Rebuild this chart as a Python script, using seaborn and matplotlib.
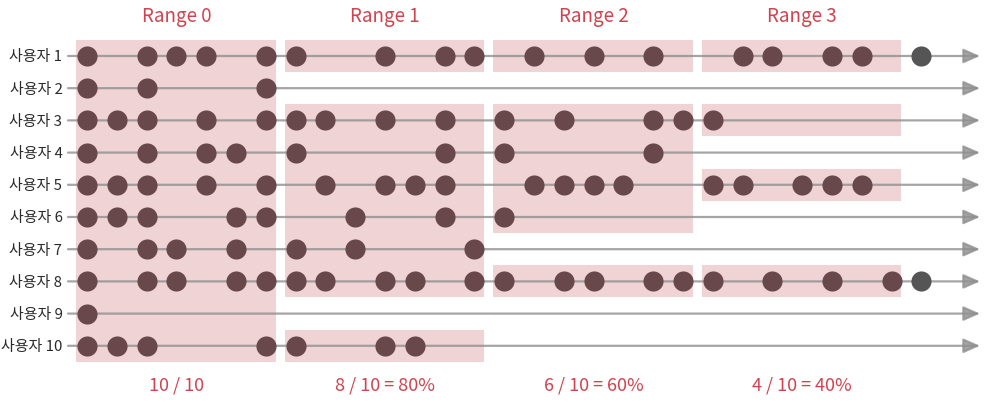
import pandas as pd
import seaborn as sns
import matplotlib.pyplot as plt
from matplotlib.patches import Rectangle

# event slots per user (slot 0..27 fall into four ranges of 7 slots)
users = ["사용자 1", "사용자 2", "사용자 3", "사용자 4", "사용자 5",
         "사용자 6", "사용자 7", "사용자 8", "사용자 9", "사용자 10"]
events = [
    [0, 2, 3, 4, 6, 7, 10, 12, 13, 15, 17, 19, 22, 23, 25, 26],
    [0, 2, 6],
    [0, 1, 2, 4, 6, 7, 8, 10, 12, 14, 16, 19, 20, 21],
    [0, 2, 4, 5, 7, 12, 14, 19],
    [0, 1, 2, 4, 6, 8, 10, 11, 12, 15, 16, 17, 18, 21, 22, 24, 25, 26],
    [0, 1, 2, 5, 6, 9, 12, 14],
    [0, 2, 3, 5, 7, 9, 13],
    [0, 2, 3, 5, 6, 7, 8, 10, 11, 13, 14, 16, 17, 19, 20, 21, 23, 25, 27],
    [0],
    [0, 1, 2, 6, 7, 10, 11],
]
# events after the last range
later = {"사용자 1": [28], "사용자 8": [28]}

range_titles = ["Range 0", "Range 1", "Range 2", "Range 3"]
range_notes = ["10 / 10", "8 / 10 = 80%", "6 / 10 = 60%", "4 / 10 = 40%"]
range_size = 7

dot_color = "#69484c"
late_color = "#555555"
box_color = "#f0d3d5"
line_color = "#8f8f8f"
red = "#d0434f"

rows = []
for r, (u, ev) in enumerate(zip(users, events), start=1):
    for e in ev:
        rows.append({"user": u, "row": r, "slot": e, "kind": "in"})
    for e in later.get(u, []):
        rows.append({"user": u, "row": r, "slot": e, "kind": "late"})
df = pd.DataFrame(rows)

sns.set_style("white")
plt.rcParams["font.family"] = ["Noto Sans CJK KR", "DejaVu Sans"]

fig = plt.figure(figsize=(9.88, 4.04), dpi=100)
ax = fig.add_axes([68 / 988, 1 - 375 / 404, 912 / 988, 345 / 404])

x0, x1 = -0.64, 29.97
ax.set_xlim(x0, x1)
ax.set_ylim(10.907, 0.193)

# shaded boxes: runs of consecutive users active within each range
for k in range(len(range_titles)):
    lo, hi = k * range_size, (k + 1) * range_size - 1
    active = [any(lo <= e <= hi for e in ev) for ev in events]
    r = 0
    while r < len(users):
        if active[r]:
            start = r
            while r < len(users) and active[r]:
                r += 1
            ax.add_patch(Rectangle((lo - 0.37, start + 0.5), (hi - lo) + 0.7,
                                   r - start, facecolor=box_color,
                                   edgecolor="none", zorder=1))
        else:
            r += 1
    cx = (lo + hi) / 2
    ax.text(cx, -0.24, range_titles[k], ha="center", va="center",
            color=red, fontsize=13.5, clip_on=False)
    ax.text(cx, 11.22, range_notes[k], ha="center", va="center",
            color=red, fontsize=13, clip_on=False)

# timeline arrows
for r in range(1, len(users) + 1):
    ax.annotate("", xy=(x1, r), xytext=(x0, r),
                arrowprops=dict(arrowstyle="-|>,head_length=0.5,head_width=0.22",
                                color=line_color, lw=1.6, alpha=0.8,
                                mutation_scale=20, shrinkA=0, shrinkB=0),
                zorder=2)

sns.scatterplot(data=df[df["kind"] == "in"], x="slot", y="row", s=210,
                color=dot_color, linewidth=0, ax=ax, zorder=3)
sns.scatterplot(data=df[df["kind"] == "late"], x="slot", y="row", s=210,
                color=late_color, linewidth=0, ax=ax, zorder=3)

ax.set_xlim(x0, x1)
ax.set_ylim(10.907, 0.193)
ax.set_yticks(range(1, len(users) + 1))
ax.set_yticklabels(users, fontsize=10.8, color="#2a2a2a")
ax.set_xticks([])
ax.tick_params(axis="y", length=0, pad=4, left=True)
ax.set_xlabel("")
ax.set_ylabel("")
for s in ax.spines.values():
    s.set_visible(False)

fig.savefig("out.png", dpi=100)
